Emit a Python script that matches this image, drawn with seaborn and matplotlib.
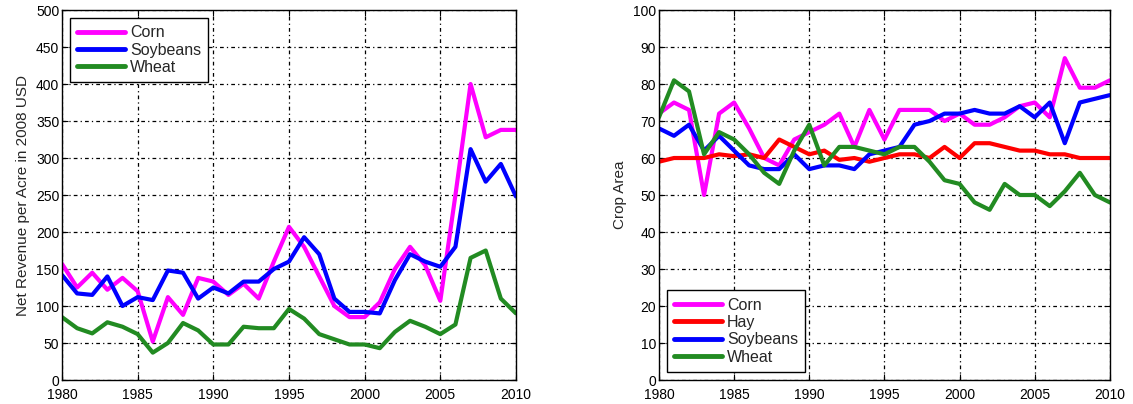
import matplotlib
matplotlib.use("Agg")
import matplotlib.pyplot as plt
import seaborn as sns
import pandas as pd
import numpy as np

years = list(range(1980, 2011))

rev_corn = [157, 125, 145, 122, 138, 120, 52, 112, 88, 138, 133, 115, 130, 110, 160,
            207, 180, 140, 100, 85, 85, 105, 150, 180, 155, 107, 250, 400, 328, 338, 338]
rev_soy = [142, 117, 115, 140, 100, 112, 108, 148, 145, 110, 125, 117, 133, 133, 150,
           160, 193, 170, 110, 92, 92, 90, 135, 170, 160, 153, 180, 312, 268, 292, 248]
rev_wheat = [85, 70, 63, 78, 72, 62, 37, 50, 77, 67, 48, 48, 72, 70, 70,
             96, 83, 62, 55, 48, 48, 43, 65, 80, 72, 62, 75, 165, 175, 110, 90]

area_corn = [72, 75, 73, 50, 72, 75, 68, 60, 58, 65, 67, 69, 72, 63, 73,
             65, 73, 73, 73, 70, 72, 69, 69, 71, 74, 75, 71, 87, 79, 79, 81]
area_hay = [59, 60, 60, 60, 61, 60.5, 61, 60, 65, 63, 61, 62, 59.5, 60, 59,
            60, 61, 61, 60, 63, 60, 64, 64, 63, 62, 62, 61, 61, 60, 60, 60]
area_soy = [68, 66, 69, 62, 66, 62, 58, 57, 57, 61, 57, 58, 58, 57, 61,
            62, 63, 69, 70, 72, 72, 73, 72, 72, 74, 71, 75, 64, 75, 76, 77]
area_wheat = [71, 81, 78, 61, 67, 65, 61, 56, 53, 62, 69, 58, 63, 63, 62,
              61, 63, 63, 59, 54, 53, 48, 46, 53, 50, 50, 47, 51, 56, 50, 48]

left_series = {"Corn": rev_corn, "Soybeans": rev_soy, "Wheat": rev_wheat}
right_series = {"Corn": area_corn, "Hay": area_hay, "Soybeans": area_soy, "Wheat": area_wheat}
colors = {"Corn": "#ff00ff", "Hay": "#ff0000", "Soybeans": "#0000ff", "Wheat": "#228b22"}

def long_df(series):
    rows = []
    for name, vals in series.items():
        for y, v in zip(years, vals):
            rows.append({"Year": y, "Value": v, "Crop": name})
    return pd.DataFrame(rows)

sns.set_style("white")
plt.rcParams['font.family'] = ['Liberation Sans', 'DejaVu Sans']

fig = plt.figure(figsize=(11.33, 4.04), dpi=100)
ax1 = fig.add_axes([0.0547, 0.0594, 0.4007, 0.9158])
ax2 = fig.add_axes([0.5816, 0.0594, 0.3980, 0.9158])

def style(ax, ymax, ystep, ylabel):
    ax.set_xlim(1980, 2010)
    ax.set_ylim(0, ymax)
    ax.set_xticks(range(1980, 2011, 5))
    ax.set_yticks(np.arange(0, ymax + 1, ystep))
    ax.grid(True, color="black", linestyle=(0, (3, 2.5, 1, 2.5)), linewidth=0.9)
    ax.set_axisbelow(True)
    for s in ax.spines.values():
        s.set_color("black")
        s.set_linewidth(1.0)
        s.set_visible(True)
    ax.tick_params(direction="in", length=4, labelsize=10, colors="black",
                   top=True, right=True, bottom=True, left=True)
    ax.tick_params(axis="x", pad=5.5)
    ax.tick_params(axis="y", pad=2)
    ax.set_xlabel("")
    ax.set_ylabel(ylabel, fontsize=11, labelpad=4)

def make_legend(ax, loc):
    leg = ax.legend(loc=loc, fontsize=11.5, frameon=True, fancybox=False,
                    edgecolor="black", framealpha=1, handlelength=3.0,
                    handletextpad=0.3, borderaxespad=0.5, labelspacing=0.15,
                    borderpad=0.45)
    leg.get_frame().set_linewidth(1.0)
    for l in leg.get_lines():
        l.set_linewidth(3.5)
    return leg

df1 = long_df(left_series)
sns.lineplot(data=df1, x="Year", y="Value", hue="Crop", palette=colors,
             linewidth=3, ax=ax1, legend=True)
style(ax1, 500, 50, "Net Revenue per Acre in 2008 USD")
make_legend(ax1, "upper left")

df2 = long_df(right_series)
sns.lineplot(data=df2, x="Year", y="Value", hue="Crop", palette=colors,
             linewidth=3, ax=ax2, legend=True)
style(ax2, 100, 10, "Crop Area")
make_legend(ax2, "lower left")

fig.savefig("out.png", dpi=100)
